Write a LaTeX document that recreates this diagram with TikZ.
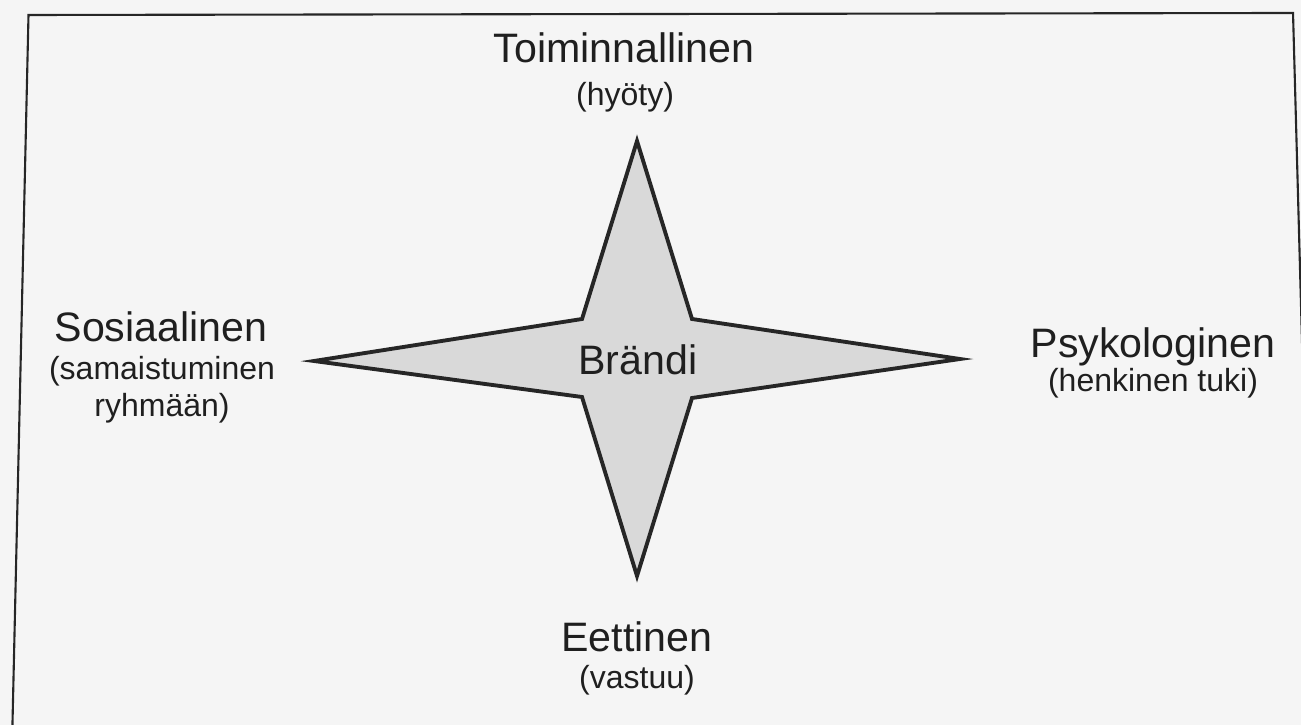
\documentclass[tikz,border=0pt]{standalone}
\usepackage{fontspec}
\setmainfont{Liberation Sans}
\usetikzlibrary{positioning}

\begin{document}
\begin{tikzpicture}[x=0.01cm, y=-0.01cm,
  kehys/.style={draw=black!85, line width=0.6pt},
  tahti/.style={draw=black!85, fill=black!15, line width=1.1pt, line join=miter},
  otsikko/.style={font=\fontsize{11.7}{13}\selectfont, text=black!88, inner sep=0pt, anchor=base},
  selite/.style={font=\fontsize{9.1}{10.8}\selectfont, text=black!88, inner sep=0pt, anchor=base, align=center}
]
  \fill[black!4] (0,0) rectangle (1301,725);
  \useasboundingbox (0,0) rectangle (1301,725);
  \clip (0,0) rectangle (1301,725);
  % frame (open at the bottom)
  \draw[kehys] (12,745) -- (28.5,15) -- (1293,13) -- (1313,745);
  % star
  \coordinate (t) at (637,141);
  \coordinate (ur) at (692,319);
  \coordinate (r) at (960,359);
  \coordinate (lr) at (692,398);
  \coordinate (b) at (637,576);
  \coordinate (ll) at (582,397);
  \coordinate (l) at (314,361);
  \coordinate (ul) at (582,319);
  \draw[tahti] (t) -- (ur) -- (r) -- (lr) -- (b) -- (ll) -- (l) -- (ul) -- cycle;
  \node[otsikko](brandi) at (638,375) {Brändi};
  % labels
  \node[otsikko](toim) at (624,63) {Toiminnallinen};
  \node[selite](toimsub) at (625,106) {(hyöty)};
  \node[otsikko](sos) at (161,342) {Sosiaalinen};
  \node[selite](sossub) at (162,417) {(samaistuminen\\ryhmään)};
  \node[otsikko](psy) at (1153,358) {Psykologinen};
  \node[selite](psysub) at (1153,392) {(henkinen tuki)};
  \node[otsikko](eet) at (637,651) {Eettinen};
  \node[selite](eetsub) at (637,688) {(vastuu)};
\end{tikzpicture}
\end{document}
